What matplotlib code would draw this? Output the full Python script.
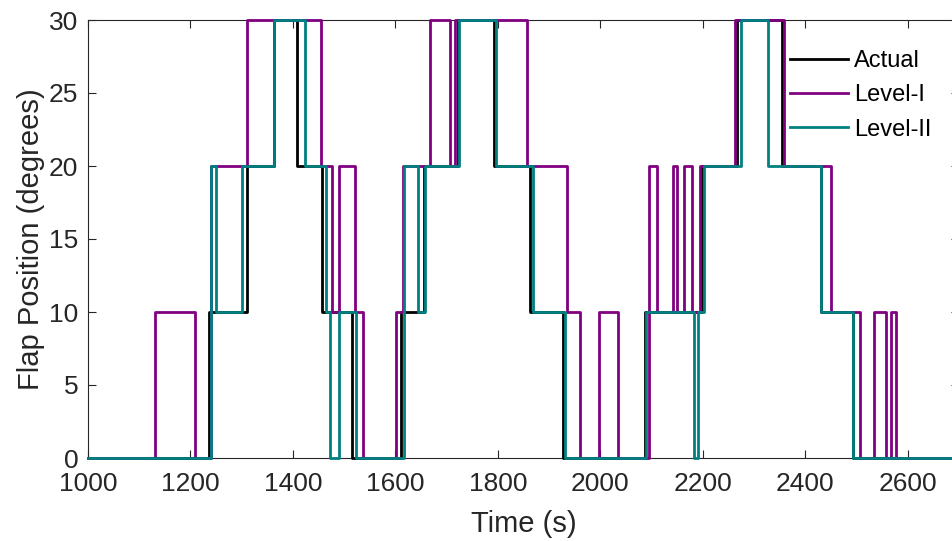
import matplotlib
matplotlib.use("Agg")
import matplotlib.pyplot as plt

# Step breakpoints (time in s, flap position in degrees); value holds until next time
actual_t = [1000, 1236, 1310, 1363, 1408, 1457, 1516, 1611, 1656, 1722, 1793, 1863, 1927,
            2088, 2199, 2267, 2354, 2430, 2494, 2700]
actual_v = [0, 10, 20, 30, 20, 10, 0, 10, 20, 30, 20, 10, 0,
            10, 20, 30, 20, 10, 0, 0]

level1_t = [1000, 1131, 1209, 1240, 1311, 1455, 1477, 1489, 1522, 1536, 1602, 1615, 1668,
            1707, 1716, 1856, 1934, 1961, 1997, 2034, 2094, 2110, 2141, 2150, 2163, 2178,
            2195, 2262, 2358, 2450, 2506, 2534, 2558, 2567, 2577, 2700]
level1_v = [0, 10, 0, 20, 30, 20, 10, 20, 10, 0, 10, 20, 30,
            20, 30, 20, 10, 0, 10, 0, 20, 10, 20, 10, 20, 10,
            20, 30, 20, 10, 0, 10, 0, 10, 0, 0]

level2_t = [1000, 1241, 1250, 1301, 1363, 1424, 1465, 1472, 1490, 1523, 1617, 1645, 1658,
            1725, 1797, 1868, 1931, 2090, 2182, 2191, 2202, 2274, 2328, 2430, 2494, 2700]
level2_v = [0, 20, 10, 20, 30, 20, 10, 0, 10, 0, 20, 10, 20,
            30, 20, 10, 0, 10, 0, 10, 20, 30, 20, 10, 0, 0]

x_ticks = [1000, 1200, 1400, 1600, 1800, 2000, 2200, 2400, 2600]
y_ticks = [0, 5, 10, 15, 20, 25, 30]

plt.rcParams['font.family'] = ['Liberation Sans', 'DejaVu Sans']

fig = plt.figure(figsize=(9.53, 5.41), dpi=100)
W, H = 953, 541
ax = fig.add_axes([88 / W, (H - 458) / H, (959 - 88) / W, (458 - 20) / H])

for s in ax.spines.values():
    s.set_color('#262626')
    s.set_linewidth(0.8)
    s.set_zorder(1)

ax.plot(actual_t, actual_v, drawstyle='steps-post', color='black', lw=2,
        label='Actual', clip_on=False, zorder=3)
ax.plot(level1_t, level1_v, drawstyle='steps-post', color='#800080', lw=2,
        label='Level-I', clip_on=False, zorder=4)
ax.plot(level2_t, level2_v, drawstyle='steps-post', color='#008080', lw=2,
        label='Level-II', clip_on=False, zorder=5)

ax.set_xlim(1000, 2700)
ax.set_ylim(0, 30)
ax.set_xticks(x_ticks)
ax.set_yticks(y_ticks)
ax.tick_params(direction='in', length=6, width=0.8, top=True, right=True,
               labelsize=19, colors='#262626')
ax.tick_params(axis='x', pad=10)
ax.tick_params(axis='y', pad=7)

ax.set_xlabel('Time (s)', fontsize=21, color='#262626', labelpad=10)
ax.set_ylabel('Flap Position (degrees)', fontsize=21, color='#262626', labelpad=3)

leg = ax.legend(loc='upper left', bbox_to_anchor=(790 / W, 1 - 50 / H),
                bbox_transform=fig.transFigure, frameon=False, fontsize=17,
                borderpad=0, borderaxespad=0, handlelength=2.45, handletextpad=0.25,
                labelspacing=0.52)

fig.savefig('out.png', dpi=100)
